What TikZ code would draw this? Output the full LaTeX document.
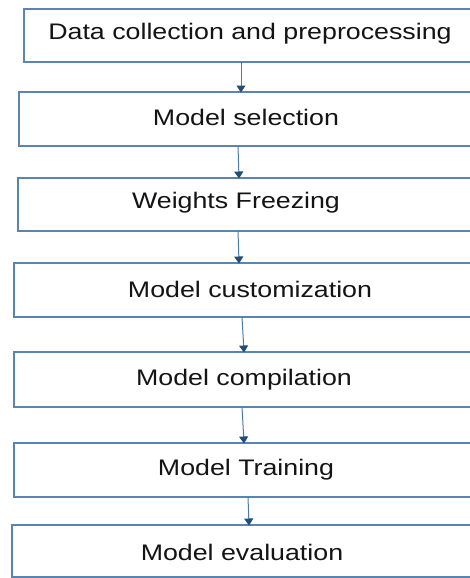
\documentclass[tikz,border=0pt]{standalone}
\usepackage{fontspec}
\setmainfont{Liberation Sans}
\newfontfamily\boxfont[FakeStretch=1.19]{Liberation Sans}
\usetikzlibrary{arrows.meta}
\definecolor{boxline}{HTML}{5A84B2}
\definecolor{arrline}{HTML}{4C7AA8}
\definecolor{arrhead}{HTML}{1F4E79}
\definecolor{txtcol}{HTML}{141414}
\tikzset{
  stagebox/.style={draw=boxline, line width=1.7pt, fill=white, anchor=north west, inner sep=0pt, outer sep=0pt},
  stagetext/.style={font=\boxfont\fontsize{22.5}{26}\selectfont, text=txtcol, anchor=base, inner sep=0pt},
  flowarrow/.style={draw=arrline, line width=1pt, -{Triangle[width=9pt,length=7pt,color=arrhead]}, shorten >=-0.5pt}
}
\begin{document}
\begin{tikzpicture}[x=1pt,y=-1pt]
\useasboundingbox (0,0) rectangle (470,578);
\clip (0,0) rectangle (470,578);
\fill[white] (0,0) rectangle (470,578);
% boxes
\node[stagebox, minimum width=476pt, minimum height=53pt] (b1) at (24,9) {};
\node[stagebox, minimum width=481pt, minimum height=54pt] (b2) at (19,92) {};
\node[stagebox, minimum width=482pt, minimum height=53pt] (b3) at (18,178) {};
\node[stagebox, minimum width=486pt, minimum height=54pt] (b4) at (14,263) {};
\node[stagebox, minimum width=486pt, minimum height=55pt] (b5) at (14,352) {};
\node[stagebox, minimum width=486pt, minimum height=54pt] (b6) at (14,443) {};
\node[stagebox, minimum width=488pt, minimum height=52pt] (b7) at (12,525) {};
% texts
\node[stagetext] (t1) at (250,39.5) {Data collection and preprocessing};
\node[stagetext] (t2) at (246,125) {Model selection};
\node[stagetext] (t3) at (236,208) {Weights Freezing};
\node[stagetext] (t4) at (250,297) {Model customization};
\node[stagetext] (t5) at (244,385) {Model compilation};
\node[stagetext] (t6) at (246,475) {Model Training};
\node[stagetext] (t7) at (242,560) {Model evaluation};
% arrow x positions
\coordinate (x1a) at (241,0); \coordinate (x1b) at (241,0);
\coordinate (x2a) at (238,0); \coordinate (x2b) at (239,0);
\coordinate (x3a) at (238,0); \coordinate (x3b) at (239,0);
\coordinate (x4a) at (242,0); \coordinate (x4b) at (244,0);
\coordinate (x5a) at (242,0); \coordinate (x5b) at (244,0);
\coordinate (x6a) at (248,0); \coordinate (x6b) at (249,0);
\draw[flowarrow] (x1a |- b1.south) -- (x1b |- b2.north);
\draw[flowarrow] (x2a |- b2.south) -- (x2b |- b3.north);
\draw[flowarrow] (x3a |- b3.south) -- (x3b |- b4.north);
\draw[flowarrow] (x4a |- b4.south) -- (x4b |- b5.north);
\draw[flowarrow] (x5a |- b5.south) -- (x5b |- b6.north);
\draw[flowarrow] (x6a |- b6.south) -- (x6b |- b7.north);
\end{tikzpicture}
\end{document}
